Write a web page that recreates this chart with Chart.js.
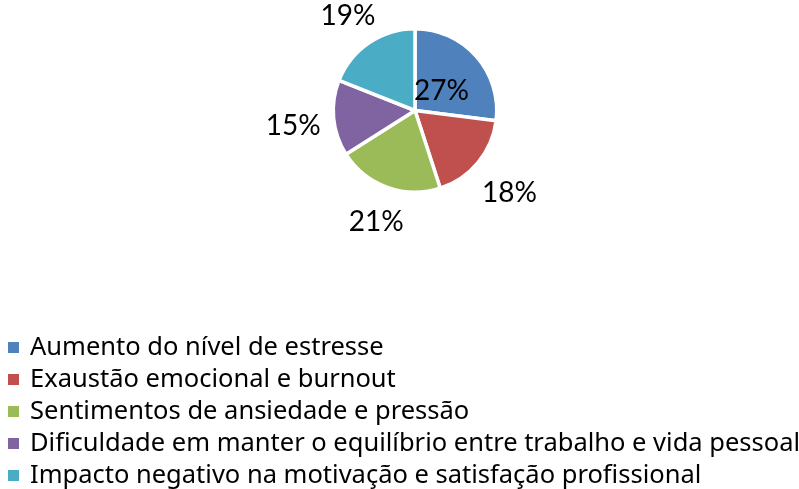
<!DOCTYPE html>
<html>
<head>
<meta charset="utf-8">
<script src="https://cdn.jsdelivr.net/npm/chart.js@4/dist/chart.umd.min.js"></script>
<style>
  html, body { margin: 0; padding: 0; background: #fff; }
  #wrap { position: relative; width: 799px; height: 489px; }
  #legend { position: absolute; left: 8px; top: 329px; font-family: "Noto Sans", sans-serif; font-size: 25.5px; color: #000; }
  #legend div { height: 32px; line-height: 32px; white-space: nowrap; }
  #legend span.box { display: inline-block; width: 11px; height: 11px; margin-right: 11px; vertical-align: 2px; }
</style>
</head>
<body>
<div id="wrap">
  <canvas id="pieChart" width="799" height="489"></canvas>
  <div id="legend"></div>
</div>
<script>
var categories = [
  "Aumento do nível de estresse",
  "Exaustão emocional e burnout",
  "Sentimentos de ansiedade e pressão",
  "Dificuldade em manter o equilíbrio entre trabalho e vida pessoal",
  "Impacto negativo na motivação e satisfação profissional"
];
var shares = [27, 18, 21, 15, 19];
var sliceColors = ["#4F81BD", "#C0504D", "#9BBB59", "#8064A2", "#4BACC6"];

// percent labels, inside the big slice, outside for the rest
var pctLabels = {
  id: "pctLabels",
  afterDatasetsDraw: function(chart) {
    var ctx = chart.ctx;
    var total = shares.reduce(function(a, b) { return a + b; }, 0);
    ctx.save();
    ctx.font = "28px Lato";
    ctx.fillStyle = "#000";
    ctx.textAlign = "center";
    ctx.textBaseline = "middle";
    chart.getDatasetMeta(0).data.forEach(function(arc, i) {
      var p = arc.getProps(["x", "y", "startAngle", "endAngle", "outerRadius"], true);
      var mid = (p.startAngle + p.endAngle) / 2;
      var pct = Math.round(shares[i] / total * 100);
      var txt = pct + "%";
      var c = Math.cos(mid), s = Math.sin(mid);
      var r;
      if (pct >= 25) {
        r = p.outerRadius * 0.43;
      } else {
        var hw = ctx.measureText(txt).width / 2, hh = 12;
        r = p.outerRadius + 12 + hw * Math.abs(c) + hh * Math.abs(s);
      }
      ctx.fillText(txt, p.x + c * r, p.y + s * r + 4);
    });
    ctx.restore();
  }
};

var pieChart = new Chart(document.getElementById("pieChart"), {
  type: "pie",
  data: {
    labels: categories,
    datasets: [{
      data: shares,
      backgroundColor: sliceColors,
      borderColor: "#fff",
      borderWidth: 3.5,
      hoverOffset: 0
    }]
  },
  options: {
    responsive: false,
    animation: false,
    layout: { padding: { top: 27, bottom: 295, left: 31, right: 0 } },
    plugins: {
      legend: { display: false },
      tooltip: { enabled: false }
    }
  },
  plugins: [pctLabels]
});

// html legend, one item per row
var legendBox = document.getElementById("legend");
categories.forEach(function(name, i) {
  var row = document.createElement("div");
  var sq = document.createElement("span");
  sq.className = "box";
  sq.style.background = sliceColors[i];
  row.appendChild(sq);
  row.appendChild(document.createTextNode(name));
  legendBox.appendChild(row);
});
</script>
</body>
</html>
